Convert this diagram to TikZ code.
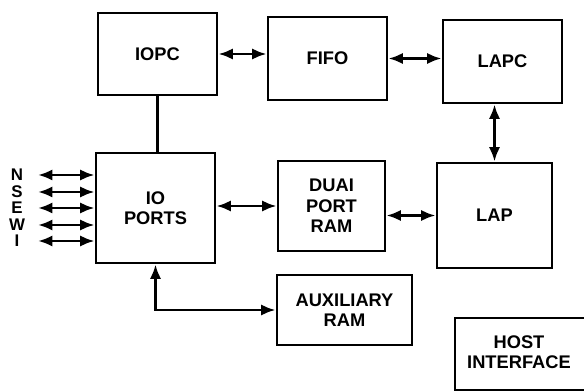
\documentclass[tikz,border=0pt]{standalone}
\usepackage{fontspec}
\setmainfont{Liberation Sans}
\usetikzlibrary{arrows.meta}
\begin{document}
\begin{tikzpicture}[x=0.025cm,y=-0.025cm,line width=2pt,
    bx/.style 2 args={draw,minimum width=#1*0.025cm,minimum height=#2*0.025cm,
      align=center,font=\fontsize{13}{14.5}\selectfont\bfseries},
    lbl/.style={font=\fontsize{12}{12}\selectfont\bfseries,inner sep=0pt},
    >={Latex[length=3.6mm,width=2.8mm]}]
    \useasboundingbox (0,0) rectangle (584,392);
    \clip (0,0) rectangle (584,392);
    \node[bx={119}{82}] (iopc) at (157.5,54) {IOPC};
    \node[bx={119}{83}] (fifo) at (327.5,58.5) {FIFO};
    \node[bx={119}{83}] (lapc) at (502.5,61.5) {LAPC};
    \node[bx={119}{110}] (ioports) at (155.5,208) {IO\\PORTS};
    \node[bx={107}{90}] (dpr) at (331.5,206) {DUAI\\PORT\\RAM};
    \node[bx={115}{105}] (lap) at (494.5,215.5) {LAP};
    \node[bx={135}{70}] (aux) at (344.5,310) {AUXILIARY\\RAM};
    \node[bx={100}{40},draw=none,inner sep=0pt] (host) at (519,352) {HOST\\INTERFACE};
    \draw (host.center) ++(-64,-34) rectangle ++(220,72);
    \draw[<->] (iopc.east) -- (iopc.east -| fifo.west);
    \draw[<->] (fifo.east) -- (fifo.east -| lapc.west);
    \draw[<->] (lap.north) -- (lap.north |- lapc.south);
    \draw (iopc.south) -- (iopc.south |- ioports.north);
    \draw[<->] (ioports.east |- dpr.west) -- (dpr.west);
    \draw[<->] (dpr.east |- lap.west) -- (lap.west);
    \draw[<->] (ioports.south) |- (aux.west);
    \foreach \y/\l in {175/N,192/S,208/E,225/W,241/I}
    {\coordinate (w\l) at (38,\y);
    \node[lbl] (l\l) at (17,\y) {\l};
    \draw[<->] (w\l) -- (w\l -| ioports.west);}
\end{tikzpicture}
\end{document}
